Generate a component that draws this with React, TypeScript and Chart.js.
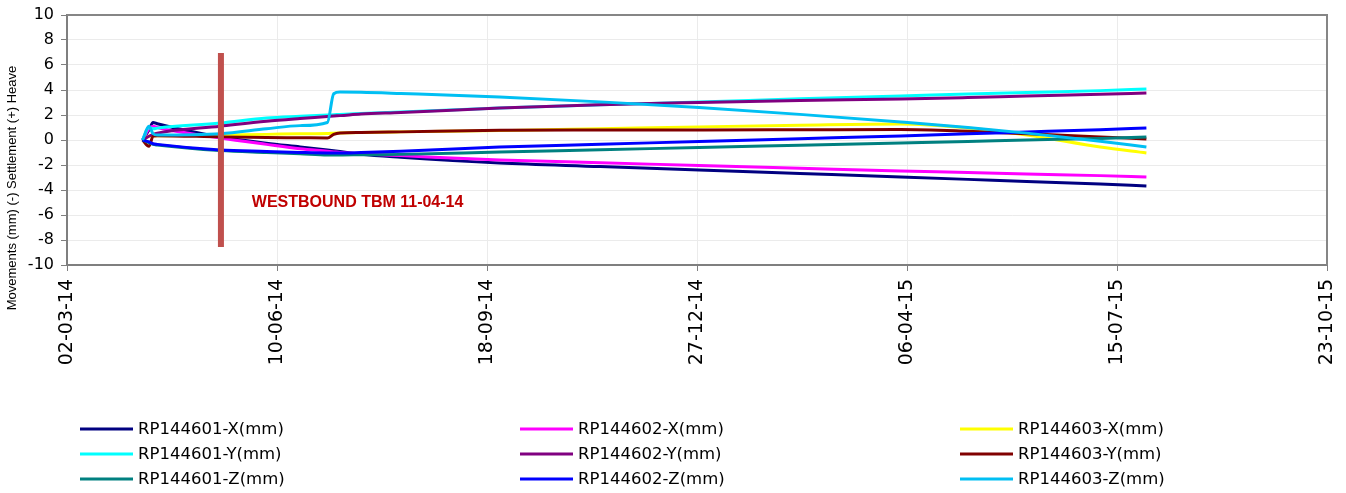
import React, { useEffect, useRef } from 'react';
import { Chart, registerables } from 'chart.js';

Chart.register(...registerables);

// Days since 02-03-14 (x axis runs 0..600 days)
const days = [36, 39, 41, 43, 73, 95, 111, 124, 127, 130, 140, 159, 206, 254, 301, 349, 397, 429, 457, 492, 514];

const seriesNames = [
  'RP144601-X(mm)', 'RP144602-X(mm)', 'RP144603-X(mm)',
  'RP144601-Y(mm)', 'RP144602-Y(mm)', 'RP144603-Y(mm)',
  'RP144601-Z(mm)', 'RP144602-Z(mm)', 'RP144603-Z(mm)',
];
const seriesColors = ['#000080', '#FF00FF', '#FFFF00', '#00FFFF', '#800080', '#800000', '#008080', '#0000FF', '#00BFF3'];

const rp144601X = [0, 0.8, 1.4, 1.3, 0.24, -0.25, -0.55, -0.8, -0.86, -0.92, -1.15, -1.39, -1.84, -2.12, -2.4, -2.68, -2.96, -3.15, -3.32, -3.52, -3.68];
const rp144602X = [0, 0.9, 1.1, 1.0, 0.16, -0.35, -0.7, -0.9, -0.95, -1.0, -1.1, -1.25, -1.6, -1.82, -2.04, -2.26, -2.48, -2.6, -2.72, -2.85, -2.96];
const rp144603X = [0, 0.3, 0.35, 0.35, 0.4, 0.45, 0.5, 0.52, 0.55, 0.56, 0.6, 0.65, 0.75, 0.9, 1.05, 1.18, 1.28, 0.96, 0.4, -0.56, -1.04];
const rp144601Y = [0, 1.0, 0.9, 0.95, 1.36, 1.76, 1.9, 2.0, 2.02, 2.05, 2.12, 2.25, 2.56, 2.82, 3.04, 3.3, 3.52, 3.68, 3.8, 3.95, 4.08];
const rp144602Y = [0, 0.3, 0.45, 0.55, 1.1, 1.5, 1.72, 1.88, 1.92, 1.95, 2.08, 2.2, 2.56, 2.82, 3.0, 3.16, 3.28, 3.4, 3.52, 3.66, 3.76];
const rp144603Y = [0, -0.5, 0.3, 0.35, 0.25, 0.2, 0.18, 0.16, 0.45, 0.56, 0.6, 0.65, 0.78, 0.8, 0.8, 0.82, 0.84, 0.7, 0.5, 0.25, 0.08];
const rp144601Z = [0, -0.2, -0.35, -0.4, -0.85, -1.0, -1.1, -1.2, -1.2, -1.2, -1.18, -1.15, -0.96, -0.78, -0.6, -0.42, -0.24, -0.12, 0.0, 0.12, 0.24];
const rp144602Z = [0, -0.15, -0.3, -0.35, -0.8, -0.92, -1.0, -1.04, -1.04, -1.04, -1.0, -0.9, -0.56, -0.34, -0.12, 0.1, 0.32, 0.5, 0.64, 0.82, 0.96];
const rp144603Z = [0, 1.1, 0.5, 0.4, 0.5, 0.9, 1.15, 1.4, 3.7, 3.84, 3.82, 3.72, 3.44, 3.05, 2.6, 2.05, 1.44, 1.0, 0.55, -0.1, -0.56];

const seriesValues = [rp144601X, rp144602X, rp144603X, rp144601Y, rp144602Y, rp144603Y, rp144601Z, rp144602Z, rp144603Z];

const xTickLabels = ['02-03-14', '10-06-14', '18-09-14', '27-12-14', '06-04-15', '15-07-15', '23-10-15'];
const yTitle = 'Movements (mm) (-) Settlement (+) Heave';

const markerDays = [73.3, 73.3];
const markerValues = [6.96, -8.56];
const annotationText = 'WESTBOUND TBM 11-04-14';
const annotationDay = 88;
const annotationValue = -5.0;

const decorPlugin = {
  id: 'decor',
  afterDraw(chart: any) {
    const { ctx, chartArea: a, scales } = chart;
    ctx.save();
    // top & right frame
    ctx.strokeStyle = '#868686';
    ctx.lineWidth = 2;
    ctx.beginPath();
    ctx.moveTo(a.left, a.top);
    ctx.lineTo(a.right, a.top);
    ctx.lineTo(a.right, a.bottom);
    ctx.stroke();

    // annotation text
    ctx.fillStyle = '#C00000';
    ctx.font = 'bold 16px "Liberation Sans", Arial, sans-serif';
    ctx.textAlign = 'left';
    ctx.textBaseline = 'middle';
    ctx.fillText(annotationText, scales.x.getPixelForValue(annotationDay), scales.y.getPixelForValue(annotationValue));

    // legend (3 columns x 3 rows)
    ctx.font = '16.5px "DejaVu Sans", Verdana, sans-serif';
    ctx.textBaseline = 'middle';
    ctx.fillStyle = '#000000';
    const colText = [138, 578, 1018];
    const rowY = [429, 454, 479];
    seriesNames.forEach((name, i) => {
      const col = i % 3;
      const row = Math.floor(i / 3);
      const tx = colText[col];
      const y = rowY[row];
      ctx.strokeStyle = seriesColors[i];
      ctx.lineWidth = 3;
      ctx.beginPath();
      ctx.moveTo(tx - 58, y);
      ctx.lineTo(tx - 5, y);
      ctx.stroke();
      ctx.fillStyle = '#000000';
      ctx.fillText(name, tx, y + 1);
    });

    // y axis title
    ctx.translate(12, 188);
    ctx.rotate(-Math.PI / 2);
    ctx.font = '13px "Liberation Sans", Arial, sans-serif';
    ctx.textAlign = 'center';
    ctx.textBaseline = 'middle';
    ctx.fillStyle = '#000000';
    ctx.fillText(yTitle, 0, 0);
    ctx.restore();
  },
};

export default function App() {
  const canvasRef = useRef<HTMLCanvasElement | null>(null);

  useEffect(() => {
    document.body.style.margin = '0';
    const canvas = canvasRef.current;
    if (!canvas) return;

    const datasets: any[] = seriesNames.map((name, i) => ({
      label: name,
      data: days.map((d, k) => ({ x: d, y: seriesValues[i][k] })),
      borderColor: seriesColors[i],
      backgroundColor: seriesColors[i],
      borderWidth: 3,
      pointRadius: 0,
      cubicInterpolationMode: 'monotone',
      fill: false,
      order: 10 - i,
    }));
    datasets.push({
      label: 'marker',
      data: markerDays.map((d, k) => ({ x: d, y: markerValues[k] })),
      borderColor: '#C0504D',
      backgroundColor: '#C0504D',
      borderWidth: 6,
      pointRadius: 0,
      fill: false,
      order: -1,
    });

    const chart = new Chart(canvas, {
      type: 'line',
      data: { datasets },
      options: {
        animation: false,
        responsive: true,
        maintainAspectRatio: false,
        layout: { padding: { top: 15, right: 19, bottom: 0, left: 0 } },
        plugins: {
          legend: { display: false },
          tooltip: { enabled: false },
          title: { display: false },
        },
        scales: {
          x: {
            type: 'linear',
            min: 0,
            max: 600,
            afterFit: (s: any) => { s.height = 228; s.paddingLeft = 0; s.paddingRight = 0; },
            ticks: {
              stepSize: 100,
              autoSkip: false,
              minRotation: 90,
              maxRotation: 90,
              padding: 8,
              color: '#000000',
              font: { family: '"DejaVu Sans", Verdana, sans-serif', size: 19 },
              callback: (_v: any, i: number) => xTickLabels[i],
            },
            grid: { color: '#ebebeb', tickLength: 6, tickColor: '#7f7f7f', lineWidth: 1 },
            border: { color: '#7f7f7f', width: 2 },
          },
          y: {
            type: 'linear',
            min: -10,
            max: 10,
            afterFit: (s: any) => { s.width = 67; s.paddingTop = 0; s.paddingBottom = 0; },
            ticks: {
              stepSize: 2,
              padding: 7,
              color: '#000000',
              font: { family: '"DejaVu Sans", Verdana, sans-serif', size: 16 },
            },
            grid: { color: '#ebebeb', tickLength: 6, tickColor: '#7f7f7f', lineWidth: 1 },
            border: { color: '#7f7f7f', width: 2 },
          },
        },
      },
      plugins: [decorPlugin],
    });

    return () => chart.destroy();
  }, []);

  return (
    <div style={{ position: 'absolute', left: 0, top: 0, width: 1346, height: 493 }}>
      <canvas ref={canvasRef} />
    </div>
  );
}
